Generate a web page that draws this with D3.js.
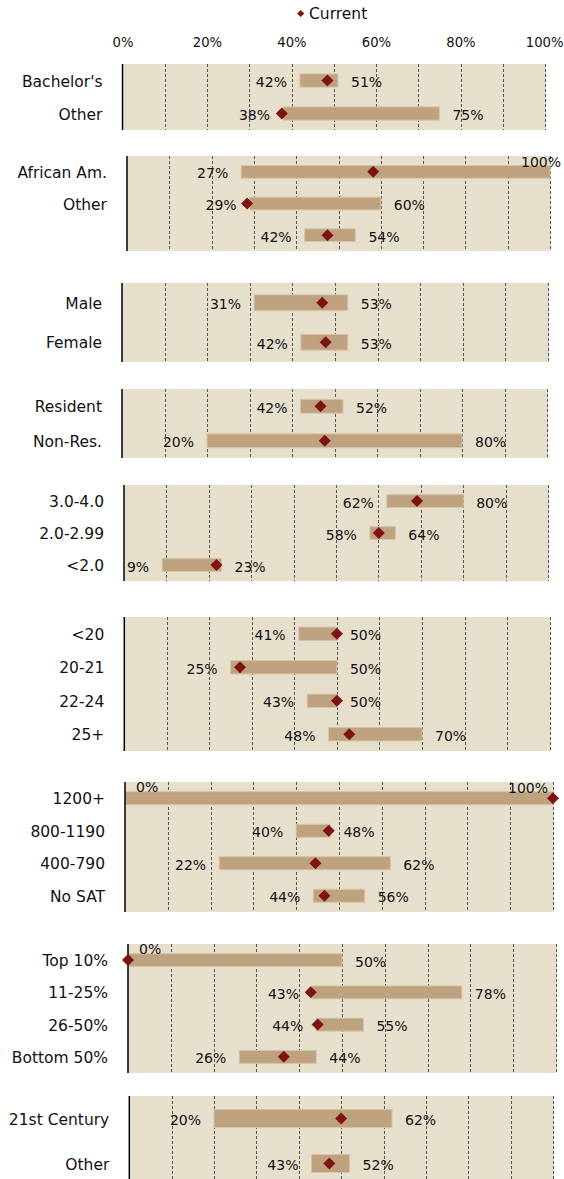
<!DOCTYPE html>
<html>
<head>
<meta charset="utf-8">
<script src="https://cdn.jsdelivr.net/npm/d3@7"></script>
<style>
  html, body { margin: 0; padding: 0; background: #ffffff; }
  svg { display: block; font-family: "DejaVu Sans", Verdana, sans-serif; }
</style>
</head>
<body>
<svg id="chart" width="564" height="1179"></svg>
<script>
// ---------------- DATA ----------------
const categories = [
  ["Bachelor's", "Other"],
  ["African Am.", "Other", ""],
  ["Male", "Female"],
  ["Resident", "Non-Res."],
  ["3.0-4.0", "2.0-2.99", "<2.0"],
  ["<20", "20-21", "22-24", "25+"],
  ["1200+", "800-1190", "400-790", "No SAT"],
  ["Top 10%", "11-25%", "26-50%", "Bottom 50%"],
  ["21st Century", "Other"]
];
const lowValues = [
  [42, 38], [27, 29, 42], [31, 42], [42, 20], [62, 58, 9],
  [41, 25, 43, 48], [0, 40, 22, 44], [0, 43, 44, 26], [20, 43]
];
const highValues = [
  [51, 75], [100, 60, 54], [53, 53], [52, 80], [80, 64, 23],
  [50, 50, 50, 70], [100, 48, 62, 56], [50, 78, 55, 44], [62, 52]
];
const currentValues = [
  [48.5, 37.7], [58.2, 28.4, 47.4], [47, 47.8], [46.7, 47.7], [69.1, 60.1, 21.8],
  [50, 27.2, 50, 52.9], [100, 47.6, 44.5, 46.6], [0, 42.7, 44.3, 36.4], [50, 47.2]
];
const tickValues = [0, 20, 40, 60, 80, 100];
const tickLabels = ["0%", "20%", "40%", "60%", "80%", "100%"];
const gridValues = [10, 20, 30, 40, 50, 60, 70, 80, 90, 100];
const legendLabel = "Current";

// ---------------- LAYOUT ----------------
const panelFrames = [
  { x0: 122.5, x1: 545, y0: 64, y1: 130 },
  { x0: 127, x1: 550, y0: 156, y1: 251 },
  { x0: 122, x1: 548, y0: 283, y1: 362 },
  { x0: 122, x1: 547, y0: 389, y1: 458 },
  { x0: 124, x1: 548, y0: 485, y1: 581 },
  { x0: 124.3, x1: 549.6, y0: 617, y1: 751 },
  { x0: 125, x1: 553, y0: 782, y1: 912 },
  { x0: 128, x1: 556, y0: 944, y1: 1073 },
  { x0: 129.3, x1: 553, y0: 1096, y1: 1186 }
];

const COL_BG = "#E6DFCC";
const COL_BAR = "#BEA17E";
const COL_BAR_EDGE = "#D6C4A6";
const COL_DIAMOND = "#7E1312";
const COL_GRID = "#555555";
const COL_TEXT = "#111111";

const svg = d3.select("#chart");
const fmt = v => Math.round(v) + "%";

// Legend
const legend = svg.append("g");
legend.append("path")
  .attr("d", d3.symbol(d3.symbolSquare, 26)())
  .attr("transform", "translate(300.7,13.5) rotate(45)")
  .attr("fill", COL_DIAMOND);
legend.append("text")
  .attr("x", 309).attr("y", 14)
  .attr("dominant-baseline", "central")
  .attr("font-size", 15.5).attr("fill", COL_TEXT)
  .text(legendLabel);

// Top axis (uses first panel's scale)
const topScale = d3.scaleLinear().domain([0, 100]).range([panelFrames[0].x0, panelFrames[0].x1]);
const topAxis = d3.axisTop(topScale).tickValues(tickValues)
  .tickFormat((d, i) => tickLabels[i]).tickSize(0).tickPadding(0);
const axG = svg.append("g").attr("transform", "translate(0,47)").call(topAxis);
axG.select(".domain").remove();
axG.selectAll("text").attr("font-size", 13.2).attr("fill", COL_TEXT)
  .attr("font-family", "DejaVu Sans, Verdana, sans-serif");
// keep the last tick label inside the page
axG.selectAll(".tick:last-of-type text").attr("text-anchor", "end").attr("x", 563 - topScale(100));

// Panels
categories.forEach((cats, p) => {
  const f = panelFrames[p];
  const x = d3.scaleLinear().domain([0, 100]).range([f.x0, f.x1]);
  const y = d3.scaleBand().domain(d3.range(cats.length)).range([f.y0, f.y1]).padding(0);
  const barH = y.bandwidth() * 0.4;
  const g = svg.append("g");

  g.append("rect")
    .attr("x", x(0)).attr("y", f.y0)
    .attr("width", x(100) - x(0) + 1).attr("height", f.y1 - f.y0)
    .attr("fill", COL_BG);

  g.selectAll("line.grid").data(gridValues).join("line")
    .attr("class", "grid")
    .attr("x1", d => Math.round(x(d)) + 0.5).attr("x2", d => Math.round(x(d)) + 0.5)
    .attr("y1", f.y0).attr("y2", f.y1)
    .attr("stroke", COL_GRID).attr("stroke-width", 1)
    .attr("stroke-dasharray", "3,2");

  const rows = cats.map((c, i) => ({
    cat: c, i, lo: lowValues[p][i], hi: highValues[p][i], cur: currentValues[p][i]
  }));

  // bars
  g.selectAll("rect.bar").data(rows).join("rect")
    .attr("class", "bar")
    .attr("x", d => x(d.lo)).attr("width", d => x(d.hi) - x(d.lo))
    .attr("y", d => y(d.i) + y.bandwidth() / 2 - barH / 2).attr("height", barH)
    .attr("fill", COL_BAR).attr("stroke", COL_BAR_EDGE).attr("stroke-width", 1);

  // axis line
  g.append("line")
    .attr("x1", x(0)).attr("x2", x(0)).attr("y1", f.y0).attr("y2", f.y1)
    .attr("stroke", "#000").attr("stroke-width", 1.5);

  // diamonds
  g.selectAll("path.cur").data(rows).join("path")
    .attr("class", "cur")
    .attr("d", d3.symbol(d3.symbolSquare, 72)())
    .attr("transform", d => `translate(${x(d.cur)},${y(d.i) + y.bandwidth() / 2}) rotate(45)`)
    .attr("fill", COL_DIAMOND);

  // category labels
  g.selectAll("text.cat").data(rows).join("text")
    .attr("class", "cat")
    .attr("x", x(0) - 20)
    .attr("y", d => y(d.i) + y.bandwidth() / 2 + 1)
    .attr("text-anchor", "end").attr("dominant-baseline", "central")
    .attr("font-size", 15.5).attr("fill", COL_TEXT)
    .text(d => d.cat);

  // low labels
  g.selectAll("text.lo").data(rows).join("text")
    .attr("class", "lo")
    .each(function (d) {
      const cy = y(d.i) + y.bandwidth() / 2;
      const t = d3.select(this);
      if (d.lo <= 0) {
        t.attr("x", x(0) + 11).attr("y", cy - 11).attr("text-anchor", "start");
      } else {
        t.attr("x", x(d.lo) - 13).attr("y", cy + 1.5).attr("text-anchor", "end");
      }
    })
    .attr("dominant-baseline", "central")
    .attr("font-size", 14).attr("fill", COL_TEXT)
    .text(d => fmt(d.lo));

  // high labels
  g.selectAll("text.hi").data(rows).join("text")
    .attr("class", "hi")
    .each(function (d) {
      const cy = y(d.i) + y.bandwidth() / 2;
      const t = d3.select(this);
      if (d.hi >= 100) {
        const atEnd = Math.abs(d.cur - d.hi) < 1;
        t.attr("x", x(100) + (atEnd ? -5 : 11)).attr("y", cy - 10).attr("text-anchor", "end");
      } else {
        t.attr("x", x(d.hi) + 13).attr("y", cy + 1.5).attr("text-anchor", "start");
      }
    })
    .attr("dominant-baseline", "central")
    .attr("font-size", 14).attr("fill", COL_TEXT)
    .text(d => fmt(d.hi));
});
</script>
</body>
</html>
